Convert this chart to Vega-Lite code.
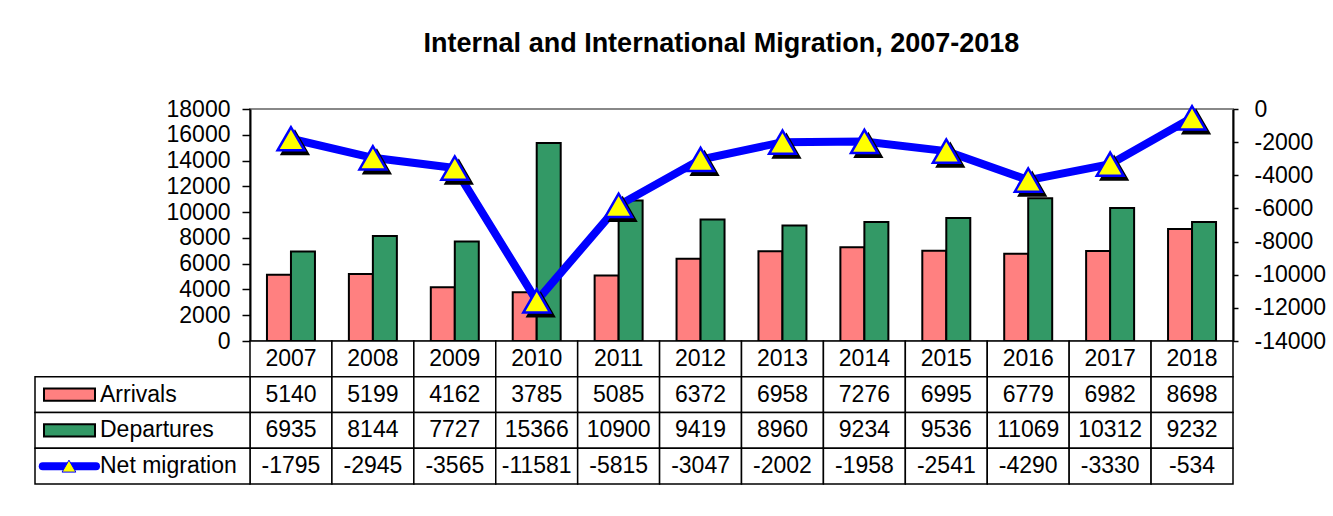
{
  "$schema": "https://vega.github.io/schema/vega-lite/v6.json",
  "padding": {"left": 34, "top": 30, "right": 5, "bottom": 5},
  "background": "white",
  "bounds": "flush",
  "spacing": 0,
  "title": {"text": "Internal and International Migration, 2007-2018", "font": "Liberation Sans", "fontSize": 27, "fontWeight": "bold", "color": "black", "anchor": "middle", "offset": 39, "dx": 41},
  "config": {
    "font": "Liberation Sans",
    "text": {"font": "Liberation Sans", "fontSize": 23, "color": "black"}
  },
  "data": {"values": [
    {"year": 2007, "series": "Arrivals", "value": 5140},
    {"year": 2008, "series": "Arrivals", "value": 5199},
    {"year": 2009, "series": "Arrivals", "value": 4162},
    {"year": 2010, "series": "Arrivals", "value": 3785},
    {"year": 2011, "series": "Arrivals", "value": 5085},
    {"year": 2012, "series": "Arrivals", "value": 6372},
    {"year": 2013, "series": "Arrivals", "value": 6958},
    {"year": 2014, "series": "Arrivals", "value": 7276},
    {"year": 2015, "series": "Arrivals", "value": 6995},
    {"year": 2016, "series": "Arrivals", "value": 6779},
    {"year": 2017, "series": "Arrivals", "value": 6982},
    {"year": 2018, "series": "Arrivals", "value": 8698},
    {"year": 2007, "series": "Departures", "value": 6935},
    {"year": 2008, "series": "Departures", "value": 8144},
    {"year": 2009, "series": "Departures", "value": 7727},
    {"year": 2010, "series": "Departures", "value": 15366},
    {"year": 2011, "series": "Departures", "value": 10900},
    {"year": 2012, "series": "Departures", "value": 9419},
    {"year": 2013, "series": "Departures", "value": 8960},
    {"year": 2014, "series": "Departures", "value": 9234},
    {"year": 2015, "series": "Departures", "value": 9536},
    {"year": 2016, "series": "Departures", "value": 11069},
    {"year": 2017, "series": "Departures", "value": 10312},
    {"year": 2018, "series": "Departures", "value": 9232},
    {"year": 2007, "series": "Net migration", "value": -1795},
    {"year": 2008, "series": "Net migration", "value": -2945},
    {"year": 2009, "series": "Net migration", "value": -3565},
    {"year": 2010, "series": "Net migration", "value": -11581},
    {"year": 2011, "series": "Net migration", "value": -5815},
    {"year": 2012, "series": "Net migration", "value": -3047},
    {"year": 2013, "series": "Net migration", "value": -2002},
    {"year": 2014, "series": "Net migration", "value": -1958},
    {"year": 2015, "series": "Net migration", "value": -2541},
    {"year": 2016, "series": "Net migration", "value": -4290},
    {"year": 2017, "series": "Net migration", "value": -3330},
    {"year": 2018, "series": "Net migration", "value": -534}
  ]},
  "vconcat": [
    {
      "width": 983,
      "height": 232,
      "view": {"stroke": "#888888", "strokeWidth": 2, "fill": "white"},
      "encoding": {
        "x": {"field": "year", "type": "ordinal", "scale": {"type": "band", "paddingInner": 0, "paddingOuter": 0}, "axis": null}
      },
      "layer": [
        {
          "transform": [{"filter": "datum.series !== 'Net migration'"}],
          "mark": {"type": "bar", "stroke": "black", "strokeWidth": 2},
          "encoding": {
            "xOffset": {"field": "series", "type": "nominal", "scale": {"domain": ["Arrivals", "Departures"], "paddingInner": 0, "paddingOuter": 0.707}},
            "y": {"field": "value", "type": "quantitative", "scale": {"domain": [0, 18000], "nice": false, "zero": false},
                  "axis": {"orient": "left", "values": [0, 2000, 4000, 6000, 8000, 10000, 12000, 14000, 16000, 18000], "title": null, "grid": false,
                           "domainColor": "black", "domainWidth": 2, "tickColor": "black", "tickWidth": 1.5, "tickSize": 8, "labelPadding": 12,
                           "labelFont": "Liberation Sans", "labelFontSize": 23, "labelColor": "black", "labelExpr": "'' + datum.value"}},
            "color": {"field": "series", "type": "nominal", "scale": {"domain": ["Arrivals", "Departures"], "range": ["#FF8080", "#339966"]}, "legend": null}
          }
        },
        {
          "transform": [{"filter": "datum.series === 'Net migration'"}],
          "encoding": {
            "y": {"field": "value", "type": "quantitative", "scale": {"domain": [-14000, 0], "nice": false, "zero": false},
                  "axis": {"orient": "right", "values": [0, -2000, -4000, -6000, -8000, -10000, -12000, -14000], "title": null, "grid": false,
                           "domainColor": "black", "domainWidth": 2, "tickColor": "black", "tickWidth": 1.5, "tickSize": 5, "labelPadding": 16,
                           "labelFont": "Liberation Sans", "labelFontSize": 23, "labelColor": "black", "labelExpr": "'' + datum.value"}}
          },
          "layer": [
            {"mark": {"type": "line", "color": "#0000FF", "strokeWidth": 8}},
            {"mark": {"type": "point", "shape": "triangle-up", "filled": true, "fill": "black", "stroke": "black", "strokeWidth": 2, "size": 720, "opacity": 1, "xOffset": 4, "yOffset": 4}},
            {"mark": {"type": "point", "shape": "triangle-up", "filled": true, "fill": "#FFFF00", "stroke": "#0000FF", "strokeWidth": 2.5, "size": 720, "opacity": 1}}
          ]
        }
      ],
      "resolve": {"scale": {"y": "independent"}}
    },
    {
      "width": 983,
      "height": 143,
      "view": {"stroke": null},
      "encoding": {
        "y": {"field": "series", "type": "nominal", "scale": {"type": "band", "domain": ["Year", "Arrivals", "Departures", "Net migration"], "paddingInner": 0, "paddingOuter": 0}, "axis": null}
      },
      "layer": [
        {
          "encoding": {
            "x": {"field": "year", "type": "ordinal", "scale": {"type": "band", "paddingInner": 0, "paddingOuter": 0}, "axis": null}
          },
          "layer": [
            {
              "transform": [{"filter": "datum.series === 'Arrivals'"}],
              "mark": {"type": "rect", "fill": "white", "stroke": "black", "strokeWidth": 1.5},
              "encoding": {"y": {"datum": "Year", "type": "nominal"}}
            },
            {
              "transform": [{"filter": "datum.series === 'Arrivals'"}],
              "mark": {"type": "text", "fontSize": 23},
              "encoding": {"y": {"datum": "Year", "type": "nominal"}, "text": {"field": "year", "type": "nominal"}}
            },
            {
              "mark": {"type": "rect", "fill": "white", "stroke": "black", "strokeWidth": 1.5}
            },
            {
              "mark": {"type": "text", "fontSize": 23},
              "encoding": {"text": {"field": "value", "type": "nominal"}}
            }
          ]
        },
        {
          "transform": [{"filter": "datum.year === 2007"}],
          "layer": [
            {
              "mark": {"type": "rect", "fill": "white", "stroke": "black", "strokeWidth": 1.5},
              "encoding": {
                "x": {"datum": -2.6246, "type": "quantitative", "scale": {"domain": [0, 12], "nice": false, "zero": false}, "axis": null},
                "x2": {"datum": 0}
              }
            },
            {
              "transform": [{"filter": "datum.series === 'Arrivals'"}],
              "mark": {"type": "point", "shape": "M-1,-0.24H1V0.24H-1Z", "filled": true, "fill": "#FF8080", "stroke": "black", "strokeWidth": 2, "size": 2601, "opacity": 1},
              "encoding": {"x": {"datum": -2.2035, "type": "quantitative"}}
            },
            {
              "transform": [{"filter": "datum.series === 'Departures'"}],
              "mark": {"type": "point", "shape": "M-1,-0.24H1V0.24H-1Z", "filled": true, "fill": "#339966", "stroke": "black", "strokeWidth": 2, "size": 2601, "opacity": 1},
              "encoding": {"x": {"datum": -2.2035, "type": "quantitative"}}
            },
            {
              "transform": [{"filter": "datum.series === 'Net migration'"}],
              "mark": {"type": "rule", "color": "#0000FF", "strokeWidth": 8, "strokeCap": "round"},
              "encoding": {"x": {"datum": -2.53, "type": "quantitative"}, "x2": {"datum": -1.88}}
            },
            {
              "transform": [{"filter": "datum.series === 'Net migration'"}],
              "mark": {"type": "point", "shape": "triangle-up", "filled": true, "fill": "#FFFF00", "stroke": "#0000FF", "strokeWidth": 1, "size": 190, "opacity": 1},
              "encoding": {"x": {"datum": -2.21, "type": "quantitative"}}
            },
            {
              "mark": {"type": "text", "align": "left", "fontSize": 23},
              "encoding": {"x": {"datum": -1.831, "type": "quantitative"}, "text": {"field": "series", "type": "nominal"}}
            }
          ]
        }
      ],
      "resolve": {"scale": {"x": "independent"}}
    }
  ],
  "resolve": {"scale": {"x": "independent", "y": "independent", "color": "independent"}}
}
